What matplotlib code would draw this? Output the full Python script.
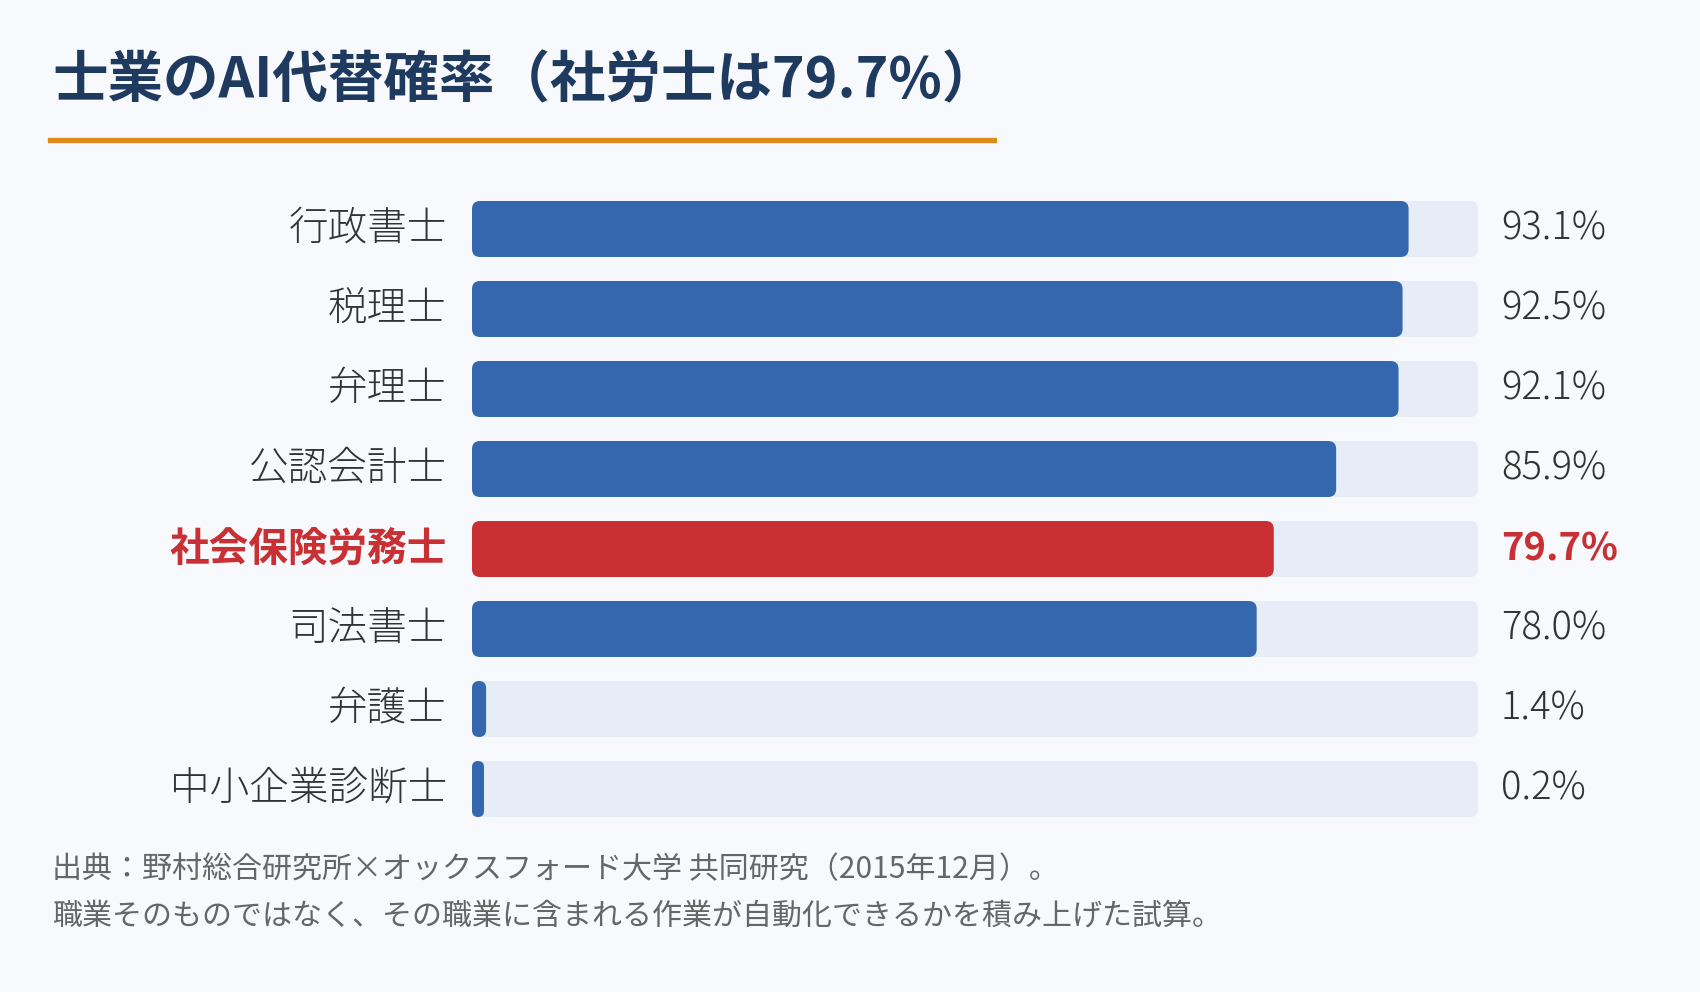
import matplotlib
matplotlib.use('Agg')
import matplotlib.pyplot as plt
from matplotlib.patches import FancyBboxPatch
from matplotlib.lines import Line2D

plt.rcParams['font.family'] = ['Noto Sans CJK JP', 'DejaVu Sans']

# Data
labels = ['行政書士', '税理士', '弁理士', '公認会計士', '社会保険労務士', '司法書士', '弁護士', '中小企業診断士']
values = [93.1, 92.5, 92.1, 85.9, 79.7, 78.0, 1.4, 0.2]
highlight = '社会保険労務士'

title = '士業のAI代替確率（社労士は79.7%）'
note1 = '出典：野村総合研究所×オックスフォード大学 共同研究（2015年12月）。'
note2 = '職業そのものではなく、その職業に含まれる作業が自動化できるかを積み上げた試算。'

# Colors
bg = '#f7f9fd'
blue = '#3467ad'
red = '#c83034'
track = '#e6edf7'
navy = '#1f3a5f'
orange = '#e08a1e'

W, H = 1700, 992
fig = plt.figure(figsize=(W / 100, H / 100), dpi=100, facecolor=bg)

# axes placed in pixel positions
x0, x1 = 472, 1478
top, bottom = 189, 829
ax = fig.add_axes([x0 / W, 1 - bottom / H, (x1 - x0) / W, (bottom - top) / H])
ax.set_facecolor(bg)
ax.set_xlim(0, 100)
ax.set_ylim(len(labels) - 0.5, -0.5)
ax.axis('off')

px_x = 100 / (x1 - x0)          # data units per pixel in x
px_y = len(labels) / (bottom - top)
aspect = px_y / px_x
bar_h = 56 * px_y
radius = 8 * px_x
min_w = 12 * px_x

for i, (lab, v) in enumerate(zip(labels, values)):
    is_hl = lab == highlight
    color = red if is_hl else blue
    # background track
    ax.add_patch(FancyBboxPatch((0, i - bar_h / 2), 100, bar_h,
                                boxstyle=f'round,pad=0,rounding_size={radius}',
                                mutation_aspect=aspect, fc=track, ec='none'))
    w = max(v, min_w)
    r = min(radius, w / 2)
    ax.add_patch(FancyBboxPatch((0, i - bar_h / 2), w, bar_h,
                                boxstyle=f'round,pad=0,rounding_size={r}',
                                mutation_aspect=aspect, fc=color, ec='none'))
    ax.text(-25 * px_x, i, lab, ha='right', va='center', fontsize=28.5,
            color=red if is_hl else '#333333',
            fontweight='bold' if is_hl else 'light')
    ax.text(100 + 23 * px_x, i, f'{v:.1f}%', ha='left', va='center', fontsize=27.5,
            color=red if is_hl else '#333333',
            fontweight='bold' if is_hl else 'light')

# title and underline
fig.text(52 / W, 1 - 81 / H, title, ha='left', va='center', fontsize=40,
         fontweight='bold', color=navy)
fig.add_artist(Line2D([50 / W, 994 / W], [1 - 140 / H, 1 - 140 / H],
                      color=orange, lw=3.8, transform=fig.transFigure))

# footnote
fig.text(52 / W, 1 - 870 / H, note1, ha='left', va='center', fontsize=21.6, color='#666666')
fig.text(52 / W, 1 - 916 / H, note2, ha='left', va='center', fontsize=21.6, color='#666666')

fig.savefig('out.png', dpi=100, facecolor=bg)
